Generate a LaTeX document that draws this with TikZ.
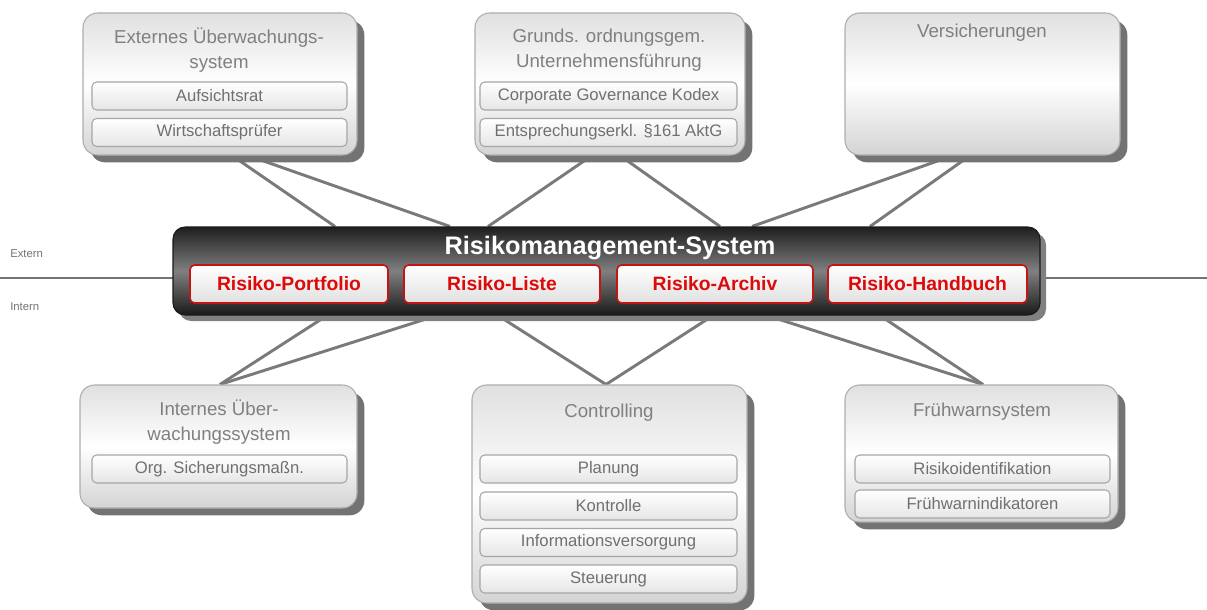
\documentclass[tikz,border=0pt]{standalone}
\usepackage{fontspec}
\setmainfont{Liberation Sans}
\usetikzlibrary{shadows,calc,backgrounds}
\definecolor{lncol}{HTML}{7A7A7A}
\definecolor{txtcol}{HTML}{808080}
\definecolor{subcol}{HTML}{707070}
\definecolor{redtxt}{HTML}{DD0A0A}
\definecolor{redline}{HTML}{C41515}
\begin{document}
\begin{tikzpicture}[x=0.75pt,y=-0.75pt,
  bigbox/.style={rectangle, rounded corners=11pt, draw=black!32, line width=0.8pt,
    top color=black!12, bottom color=black!17, middle color=white, inner sep=0pt,
    drop shadow={shadow xshift=5.5pt, shadow yshift=-5.5pt, fill=black!55, opacity=1}},
  subbox/.style={rectangle, rounded corners=3.5pt, draw=black!35, line width=0.8pt,
    top color=white, bottom color=black!10, inner sep=0pt,
    minimum height=21pt, text=subcol, font=\fontsize{12.5}{14}\selectfont},
  mainbox/.style={rectangle, rounded corners=9pt, draw=black!90, line width=0.8pt,
    top color=black!88, bottom color=black!90, middle color=black!50, inner sep=0pt,
    drop shadow={shadow xshift=4.5pt, shadow yshift=-4.5pt, fill=black!50, opacity=1}},
  redbox/.style={rectangle, rounded corners=3.5pt, draw=redline, line width=1.2pt,
    top color=white, bottom color=black!12, inner sep=0pt,
    minimum height=28.5pt, text=redtxt, font=\fontsize{14.5}{16}\selectfont\bfseries},
  ttl/.style={text=txtcol, font=\fontsize{14}{18.75}\selectfont, align=center, inner sep=0pt},
  conn/.style={draw=lncol, line width=2.2pt},
  side/.style={text=black!55, font=\fontsize{8.5}{10}\selectfont, inner sep=0pt, anchor=west}
]
\useasboundingbox (0,0) rectangle (1207,610);

% ---------- top boxes ----------
\node[bigbox, minimum width=205.5pt, minimum height=106.5pt] (ext) at (220,84) {};
\node[ttl] (extT) at (219,50.5) {Externes Überwachungs-\\system};
\node[subbox, minimum width=191.25pt] (ext1) at (219.5,96) {Aufsichtsrat};
\node[subbox, minimum width=191.25pt] (ext2) at (219.5,132.5) {Wirtschaftsprüfer};

\node[bigbox, minimum width=202.5pt, minimum height=106.5pt] (gov) at (610,84) {};
\node[ttl] (govT) at (609,50.5) {Grunds. ordnungsgem.\\Unternehmensführung};
\node[subbox, minimum width=192.75pt] (gov1) at (608.5,96) {Corporate Governance Kodex};
\node[subbox, minimum width=192.75pt] (gov2) at (608.5,132.5) {Entsprechungserkl. §161 AktG};

\node[bigbox, minimum width=206.25pt, minimum height=106.5pt] (vers) at (982.5,84) {};
\node[ttl] (versT) at (982,33) {Versicherungen};

% ---------- main box ----------
\node[mainbox, minimum width=650.25pt, minimum height=66pt] (main) at (606.5,271) {};
\node[text=white, font=\fontsize{19}{22}\selectfont\bfseries, inner sep=0pt] (mainT) at (610,248) {Risikomanagement-System};
\node[redbox, minimum width=148.5pt] (r1) at (289,284) {Risiko-Portfolio};
\node[redbox, minimum width=147pt] (r2) at (502,284) {Risiko-Liste};
\node[redbox, minimum width=147pt] (r3) at (715,284) {Risiko-Archiv};
\node[redbox, minimum width=149.25pt] (r4) at (927.5,284) {Risiko-Handbuch};

% ---------- bottom boxes ----------
\node[bigbox, minimum width=207.75pt, minimum height=92.25pt] (intl) at (218.5,446.5) {};
\node[ttl] (intlT) at (219,422.5) {Internes Über-\\wachungssystem};
\node[subbox, minimum width=191.25pt] (intl1) at (219.5,469) {Org. Sicherungsmaßn.};

\node[bigbox, minimum width=206.25pt, minimum height=163.5pt] (ctrl) at (609.5,494) {};
\node[ttl] (ctrlT) at (609,413) {Controlling};
\node[subbox, minimum width=192.75pt] (ctrl1) at (608.5,469) {Planung};
\node[subbox, minimum width=192.75pt] (ctrl2) at (608.5,506) {Kontrolle};
\node[subbox, minimum width=192.75pt] (ctrl3) at (608.5,542.5) {Informationsversorgung};
\node[subbox, minimum width=192.75pt] (ctrl4) at (608.5,579) {Steuerung};

\node[bigbox, minimum width=204.75pt, minimum height=102.75pt] (fw) at (981.5,453.5) {};
\node[ttl] (fwT) at (982,412) {Frühwarnsystem};
\node[subbox, minimum width=191.25pt] (fw1) at (982.5,469) {Risikoidentifikation};
\node[subbox, minimum width=191.25pt] (fw2) at (982.5,504) {Frühwarnindikatoren};

% ---------- side labels ----------
\node[side] (ext-lbl) at (10,254) {Extern};
\node[side] (int-lbl) at (10,307) {Intern};
\coordinate (lineL) at (0,278);
\coordinate (lineR) at (1207,278);

% ---------- connectors (behind boxes) ----------
\begin{pgfonlayer}{background}
  \draw[draw=black!55, line width=0.8pt] (lineL) -- (lineR);
  \draw[conn] ($(ext.south)+(12,0)$) -- ($(main.north)+(-271.5,0)$);
  \draw[conn] ($(ext.south)+(28,0)$) -- ($(main.north)+(-156.5,0)$);
  \draw[conn] ($(gov.south)+(-18,0)$) -- ($(main.north)+(-118.5,0)$);
  \draw[conn] ($(gov.south)+(10,0)$) -- ($(main.north)+(113.5,0)$);
  \draw[conn] ($(vers.south)+(-29.5,0)$) -- ($(main.north)+(145.5,0)$);
  \draw[conn] ($(vers.south)+(-12.5,0)$) -- ($(main.north)+(263.5,0)$);
  \draw[conn] ($(main.south)+(-279.5,0)$) -- ($(intl.north)+(1.5,0)$);
  \draw[conn] ($(main.south)+(-169.5,0)$) -- ($(intl.north)+(1.5,0)$);
  \draw[conn] ($(main.south)+(-108.5,0)$) -- ($(ctrl.north)+(-3.5,0)$);
  \draw[conn] ($(main.south)+(106.5,0)$) -- ($(ctrl.north)+(-3.5,0)$);
  \draw[conn] ($(main.south)+(160.5,0)$) -- ($(fw.north)+(1.5,0)$);
  \draw[conn] ($(main.south)+(273.5,0)$) -- ($(fw.north)+(1.5,0)$);
\end{pgfonlayer}
\end{tikzpicture}
\end{document}
